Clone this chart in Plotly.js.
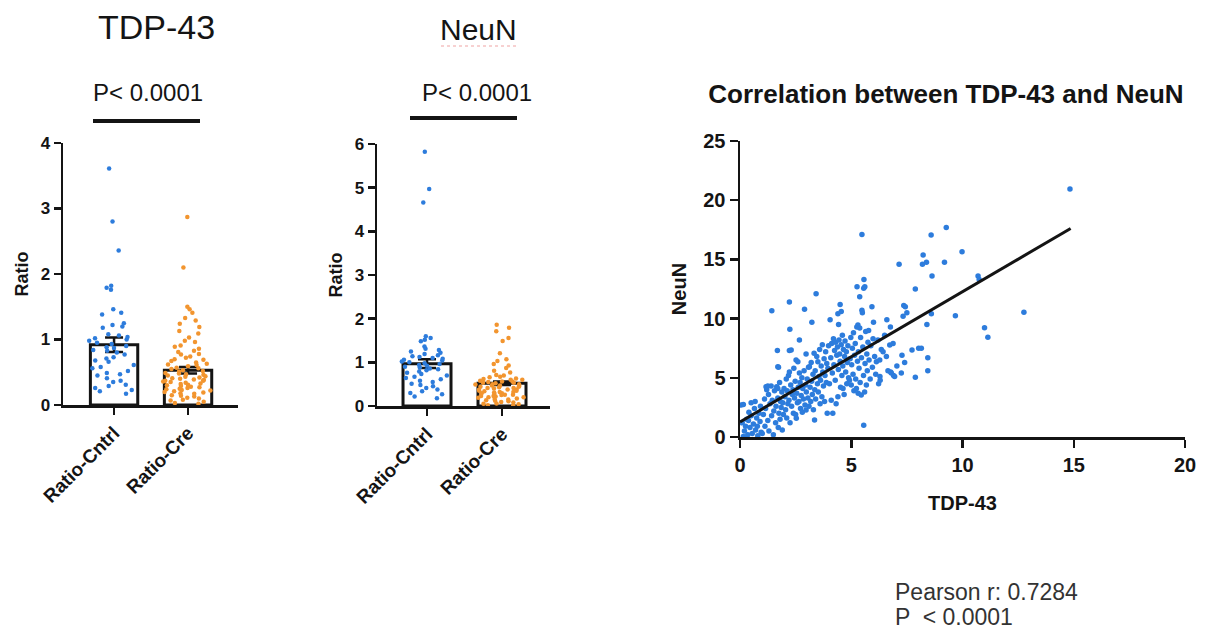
<!DOCTYPE html>
<html>
<head>
<meta charset="utf-8">
<script src="https://cdn.plot.ly/plotly-3.0.1.min.js"></script>
<style>html,body{margin:0;padding:0;background:#fff;}#chart{width:1228px;height:632px;}</style>
</head>
<body>
<div id="chart"></div>
<script>
// ---------- data ----------
const groupLabels = ['Ratio-Cntrl', 'Ratio-Cre'];

// TDP-43 panel
const tdpMeans = [0.92, 0.53];
const tdpSem = [0.11, 0.05];
const tdpCntrl = [3.61, 2.80, 2.36, 1.82, 1.79, 1.76, 1.46, 1.41, 1.38, 1.25, 1.22, 1.20, 1.18, 1.08, 1.06, 1.04,
  1.02, 1.00, 0.98, 0.95, 0.93, 0.90, 0.88, 0.87, 0.84, 0.83, 0.80, 0.77, 0.73, 0.71, 0.68, 0.66, 0.61, 0.58,
  0.56, 0.52, 0.49, 0.47, 0.45, 0.41, 0.37, 0.35, 0.31, 0.29, 0.26, 0.23, 0.21, 0.17];
const tdpCre = [2.87, 2.10, 1.50, 1.46, 1.41, 1.33, 1.29, 1.24, 1.19, 1.13, 1.09, 1.03, 0.98, 0.96, 0.91, 0.89,
  0.86, 0.83, 0.81, 0.78, 0.77, 0.74, 0.72, 0.70, 0.69, 0.67, 0.65, 0.63, 0.62, 0.61, 0.59, 0.57, 0.56, 0.55,
  0.53, 0.52, 0.51, 0.49, 0.48, 0.47, 0.46, 0.45, 0.44, 0.43, 0.42, 0.41, 0.40, 0.39, 0.38, 0.37, 0.37, 0.36,
  0.35, 0.34, 0.33, 0.32, 0.31, 0.30, 0.29, 0.28, 0.27, 0.26, 0.25, 0.24, 0.23, 0.22, 0.21, 0.20, 0.19, 0.18,
  0.17, 0.15, 0.14, 0.13, 0.11, 0.10, 0.08, 0.07, 0.05, 0.03, 0.02];

// NeuN panel
const neunMeans = [0.97, 0.52];
const neunSem = [0.10, 0.04];
const neunCntrl = [5.82, 4.97, 4.66, 1.60, 1.56, 1.52, 1.48, 1.36, 1.31, 1.28, 1.25, 1.22, 1.19, 1.16, 1.14,
  1.12, 1.10, 1.08, 1.06, 1.04, 1.02, 1.00, 0.98, 0.96, 0.94, 0.92, 0.90, 0.88, 0.86, 0.84, 0.82, 0.79, 0.76,
  0.73, 0.70, 0.67, 0.64, 0.61, 0.58, 0.55, 0.51, 0.48, 0.45, 0.41, 0.38, 0.34, 0.30, 0.27, 0.22, 0.18];
const neunCre = [1.86, 1.79, 1.71, 1.56, 1.49, 1.21, 1.07, 1.03, 0.96, 0.93, 0.87, 0.81, 0.77, 0.71, 0.70, 0.67,
  0.66, 0.63, 0.62, 0.60, 0.60, 0.58, 0.56, 0.56, 0.55, 0.53, 0.53, 0.52, 0.50, 0.50, 0.49, 0.47, 0.47, 0.46,
  0.44, 0.44, 0.43, 0.41, 0.41, 0.40, 0.38, 0.38, 0.37, 0.35, 0.35, 0.34, 0.32, 0.32, 0.31, 0.29, 0.29, 0.28,
  0.26, 0.26, 0.25, 0.23, 0.23, 0.22, 0.20, 0.20, 0.19, 0.17, 0.16, 0.15, 0.13, 0.12, 0.11, 0.09, 0.08, 0.06,
  0.05, 0.04, 0.02, 0.01];

// Correlation panel (TDP-43 on x, NeuN on y), same order in both arrays
const corrTdp = [
  0.05,0.15,0.10,0.20,0.30,0.35,0.40,0.45,0.50,0.55, 0.60,0.65,0.70,0.75,0.80,0.85,0.90,0.95,0.50,0.25,
  0.68,0.92,0.38,0.78,0.15,
  1.00,1.05,1.10,1.12,1.15,1.20,1.25,1.28,1.30,1.35, 1.40,1.42,1.45,1.50,1.52,1.55,1.60,1.62,1.65,1.70,
  1.72,1.75,1.78,1.80,1.82,1.85,1.88,1.90,1.92,1.95, 1.98,1.17,1.70,1.25,1.68,1.73,1.43,1.70,
  2.02,2.05,2.08,2.10,2.12,2.15,2.18,2.20,2.22,2.22, 2.24,2.22,2.25,2.28,2.30,2.32,2.35,2.38,2.40,2.42,
  2.45,2.48,2.50,2.52,2.53,2.55,2.58,2.60,2.62,2.65, 2.67,2.67,2.70,2.72,2.75,2.78,2.80,2.82,2.85,2.88,
  2.90,2.92,2.95,2.97,2.97,2.98,
  3.02,3.05,3.08,3.10,3.12,3.15,3.18,3.20,3.22,3.23, 3.25,3.28,3.30,3.33,3.35,3.36,3.38,3.40,3.42,3.45,
  3.48,3.50,3.52,3.55,3.58,3.60,3.62,3.65,3.68,3.70, 3.72,3.75,3.78,3.80,3.82,3.85,3.88,3.90,3.92,3.95,
  3.98,
  4.02,4.05,4.08,4.10,4.12,4.15,4.17,4.20,4.22,4.25, 4.28,4.30,4.32,4.35,4.38,4.40,4.40,4.42,4.43,4.45,
  4.48,4.50,4.50,4.52,4.55,4.55,4.58,4.60,4.62,4.63, 4.65,4.68,4.70,4.72,4.75,4.78,4.80,4.82,4.85,4.88,
  4.92,4.95,4.98,
  5.00,5.02,5.05,5.08,5.10,5.12,5.15,5.18,5.20,5.23, 5.25,5.26,5.28,5.30,5.31,5.32,5.35,5.38,5.38,5.40,
  5.42,5.45,5.46,5.48,5.48,5.50,5.52,5.55,5.56,5.57, 5.56,5.60,5.61,5.62,5.65,5.68,5.70,5.72,5.75,5.78,
  5.80,5.85,5.88,5.93,5.95,5.98,
  6.00,6.05,6.10,6.13,6.20,6.23,6.28,6.29,6.30,6.35, 6.43,6.50,6.58,6.60,6.65,6.73,6.76,6.77,6.80,6.88,
  6.90,6.95,7.05,7.15,7.25,7.28,7.33,7.36,7.40,7.43, 7.50,7.73,7.88,7.88,8.03,8.15,
  8.20,8.23,8.38,8.40,8.44,8.44,8.59,8.60,8.63,9.19, 9.27,9.68,9.98,10.70,10.75,10.99,11.14,12.76,14.83
];
const corrNeun = [
  2.7,2.75,1.2,0.5,1.5,0.2,2.1,0.8,1.8,0.3, 1.1,2.4,0.6,1.6,0.1,2.0,1.3,0.4,2.9,0.9,
  3.0,2.6,1.4,0.9,0.05,
  0.3,1.9,3.2,0.9,2.4,4.0,1.4,3.6,0.5,2.8, 4.3,1.8,3.1,0.2,2.2,3.9,1.2,2.6,4.25,3.3,
  0.8,2.0,4.6,1.5,3.0,2.5,3.8,0.6,2.9,1.9, 4.1,4.25,4.1,4.3,7.3,5.9,10.67,5.94,
  3.4,2.3,4.9,1.6,3.9,2.8,5.2,3.1,5.5,7.3, 9.1,11.4,1.2,4.4,7.35,2.6,3.6,4.0,2.0,5.8,
  3.3,4.7,1.9,6.5,1.58,3.7,2.9,6.36,4.2,3.0, 5.4,8.2,4.6,2.4,3.5,5.0,2.1,4.1,3.2,5.6,
  10.8,2.7,4.4,2.28,7.0,3.8,
  4.9,3.3,5.9,2.6,5.94,4.2,3.0,6.3,4.7,9.7, 3.6,5.3,2.3,7.07,1.44,4.0,5.6,3.2,12.1,6.8,
  4.5,6.36,3.8,5.1,7.4,2.8,4.8,6.0,3.4,7.8, 5.5,4.3,6.6,3.0,5.2,7.2,4.6,6.2,2.0,5.8,
  7.7,
  4.5,9.9,6.7,3.1,7.9,5.4,2.0,8.3,6.1,7.3, 4.8,8.0,2.8,6.9,7.6,3.4,10.4,5.7,9.5,8.2,
  7.0,11.2,6.4,4.2,10.6,7.8,5.2,8.6,6.0,4.1, 7.4,3.6,6.8,8.1,5.5,7.2,4.5,6.3,7.7,5.0,
  4.8,6.6,8.4,
  4.4,6.1,7.5,5.3,8.8,3.9,6.9,7.9,4.9,4.1, 9.3,12.7,6.4,9.46,3.7,7.2,5.8,9.2,11.85,4.6,
  8.4,3.55,6.7,17.1,10.7,10.5,7.6,5.2,12.56,13.3, 1.0,3.8,12.7,6.2,8.9,4.4,7.0,5.6,8.0,9.0,
  6.5,4.9,7.7,11.0,5.9,8.3,
  9.7,6.8,5.3,6.36,8.2,4.5,6.5,5.1,4.8,7.4, 7.2,8.6,6.8,9.9,5.6,7.77,9.3,5.5,5.4,7.9,
  5.2,5.1,6.0,14.6,5.4,6.9,10.2,11.1,6.3,11.0, 10.5,7.35,5.04,12.5,7.5,7.5,
  14.6,15.37,14.75,9.5,6.7,5.6,17.06,10.4,13.6,14.75, 17.7,10.25,15.65,13.6,13.3,9.23,8.42,10.53,20.95
];
// linear fit
const fitIntercept = 1.27;
const fitSlope = 1.10;
const fitRangeX = [0, 14.86];

const pearsonText = ['Pearson r: 0.7284', 'P  < 0.0001'];
const pText = 'P< 0.0001';

// ---------- styling ----------
const FONT = 'Liberation Sans, Arial, Helvetica, sans-serif';
const BLUE = '#2d7cdc';
const ORANGE = '#f2952f';
const INK = '#141414';

function barTrace(means, sem, xa, ya) {
  return {
    type: 'bar', x: groupLabels, y: means, xaxis: xa, yaxis: ya, width: 0.64,
    marker: {color: 'rgba(255,255,255,0)', line: {color: INK, width: 3}},
    error_y: {type: 'data', array: sem, visible: true, color: INK, thickness: 2.5, width: 9},
    hoverinfo: 'skip'
  };
}
function dotsTrace(vals, label, color, xa, ya) {
  return {
    type: 'box', y: vals, x0: label, name: label, xaxis: xa, yaxis: ya,
    boxpoints: 'all', jitter: 1, pointpos: 0, width: 0.72,
    fillcolor: 'rgba(0,0,0,0)', line: {color: 'rgba(0,0,0,0)', width: 0},
    marker: {color: color, size: 4.5, line: {width: 0}},
    hoverinfo: 'y'
  };
}

const traces = [
  barTrace(tdpMeans, tdpSem, 'x', 'y'),
  dotsTrace(tdpCntrl, groupLabels[0], BLUE, 'x', 'y'),
  dotsTrace(tdpCre, groupLabels[1], ORANGE, 'x', 'y'),
  barTrace(neunMeans, neunSem, 'x2', 'y2'),
  dotsTrace(neunCntrl, groupLabels[0], BLUE, 'x2', 'y2'),
  dotsTrace(neunCre, groupLabels[1], ORANGE, 'x2', 'y2'),
  {
    type: 'scatter', mode: 'markers', x: corrTdp, y: corrNeun, xaxis: 'x3', yaxis: 'y3',
    marker: {color: BLUE, size: 5.5, line: {width: 0}}
  },
  {
    type: 'scatter', mode: 'lines', x: fitRangeX, y: fitRangeX.map(v => fitIntercept + fitSlope * v),
    xaxis: 'x3', yaxis: 'y3', line: {color: INK, width: 3}, hoverinfo: 'skip'
  }
];

const W = 1228, H = 632;
const px = v => v / W;
const py = v => 1 - v / H;

function catX(domain, range) {
  return {
    domain: domain, type: 'category', categoryorder: 'array', categoryarray: groupLabels, range: range,
    showline: true, linecolor: INK, linewidth: 2.5, ticks: 'outside', ticklen: 7, tickwidth: 2.5, tickcolor: INK,
    tickangle: -45, tickfont: {family: FONT, size: 19, color: INK, weight: 'bold'},
    showgrid: false, zeroline: false, fixedrange: true
  };
}
function ratioY(domain, range, anchor) {
  return {
    domain: domain, range: range, dtick: 1, anchor: anchor,
    showline: true, linecolor: INK, linewidth: 2.5, ticks: 'outside', ticklen: 7, tickwidth: 2.5, tickcolor: INK,
    tickfont: {family: FONT, size: 17, color: INK, weight: 'bold'},
    title: {text: 'Ratio', font: {family: FONT, size: 18, color: INK, weight: 'bold'}, standoff: 8},
    showgrid: false, zeroline: false, fixedrange: true
  };
}

const layout = {
  width: W, height: H, margin: {l: 0, r: 0, t: 0, b: 0},
  paper_bgcolor: '#fff', plot_bgcolor: 'rgba(0,0,0,0)', showlegend: false,
  boxmode: 'overlay', bargap: 0,
  font: {family: FONT, color: INK},
  title: {
    text: 'Correlation between TDP-43 and NeuN', font: {family: FONT, size: 26, color: INK, weight: 'bold'},
    x: px(946), xanchor: 'center', y: py(94), yanchor: 'middle', xref: 'paper', yref: 'paper'
  },
  xaxis: Object.assign(catX([px(63), px(238)], [-0.69, 1.675]), {anchor: 'y'}),
  yaxis: ratioY([py(405), py(143)], [0, 4], 'x'),
  xaxis2: Object.assign(catX([px(377), px(550)], [-0.667, 1.64]), {anchor: 'y2'}),
  yaxis2: ratioY([py(406), py(144)], [0, 6], 'x2'),
  xaxis3: {
    domain: [px(740), px(1185)], range: [0, 20], dtick: 5, anchor: 'y3',
    showline: true, linecolor: INK, linewidth: 2.5, ticks: 'outside', ticklen: 8, tickwidth: 2.5, tickcolor: INK,
    tickfont: {family: FONT, size: 20, color: INK, weight: 'bold'},
    title: {text: 'TDP-43', font: {family: FONT, size: 20, color: INK, weight: 'bold'}, standoff: 22},
    showgrid: false, zeroline: false, fixedrange: true
  },
  yaxis3: {
    domain: [py(437), py(141)], range: [0, 25], dtick: 5, anchor: 'x3',
    showline: true, linecolor: INK, linewidth: 2.5, ticks: 'outside', ticklen: 8, tickwidth: 2.5, tickcolor: INK,
    tickfont: {family: FONT, size: 20, color: INK, weight: 'bold'},
    title: {text: 'NeuN', font: {family: FONT, size: 20, color: INK, weight: 'bold'}, standoff: 12},
    showgrid: false, zeroline: false, fixedrange: true
  },
  annotations: [
    {text: 'TDP-43', xref: 'paper', yref: 'paper', x: px(156), y: py(27), xanchor: 'center', yanchor: 'middle',
     showarrow: false, font: {family: FONT, size: 34, color: INK}},
    {text: 'NeuN', xref: 'paper', yref: 'paper', x: px(478), y: py(29), xanchor: 'center', yanchor: 'middle',
     showarrow: false, font: {family: FONT, size: 30, color: INK}},
    {text: pText, xref: 'paper', yref: 'paper', x: px(148), y: py(92), xanchor: 'center', yanchor: 'middle',
     showarrow: false, font: {family: FONT, size: 24, color: INK}},
    {text: pText, xref: 'paper', yref: 'paper', x: px(477), y: py(92), xanchor: 'center', yanchor: 'middle',
     showarrow: false, font: {family: FONT, size: 24, color: INK}},
    {text: pearsonText[0], xref: 'paper', yref: 'paper', x: px(893), y: py(592), xanchor: 'left', yanchor: 'middle',
     align: 'left', showarrow: false, font: {family: FONT, size: 23, color: '#333'}},
    {text: pearsonText[1], xref: 'paper', yref: 'paper', x: px(893), y: py(617), xanchor: 'left', yanchor: 'middle',
     align: 'left', showarrow: false, font: {family: FONT, size: 23, color: '#333'}}
  ],
  shapes: [
    {type: 'line', xref: 'paper', yref: 'paper', x0: px(93), x1: px(200), y0: py(121), y1: py(121), line: {color: INK, width: 4}},
    {type: 'line', xref: 'paper', yref: 'paper', x0: px(410), x1: px(517), y0: py(118), y1: py(118), line: {color: INK, width: 4}},
    {type: 'line', xref: 'paper', yref: 'paper', x0: px(441), x1: px(516), y0: py(46), y1: py(46), line: {color: 'rgba(225,90,90,0.55)', width: 1.2, dash: 'dot'}}
  ]
};

Plotly.newPlot('chart', traces, layout, {displayModeBar: false, staticPlot: true});
</script>
</body>
</html>
